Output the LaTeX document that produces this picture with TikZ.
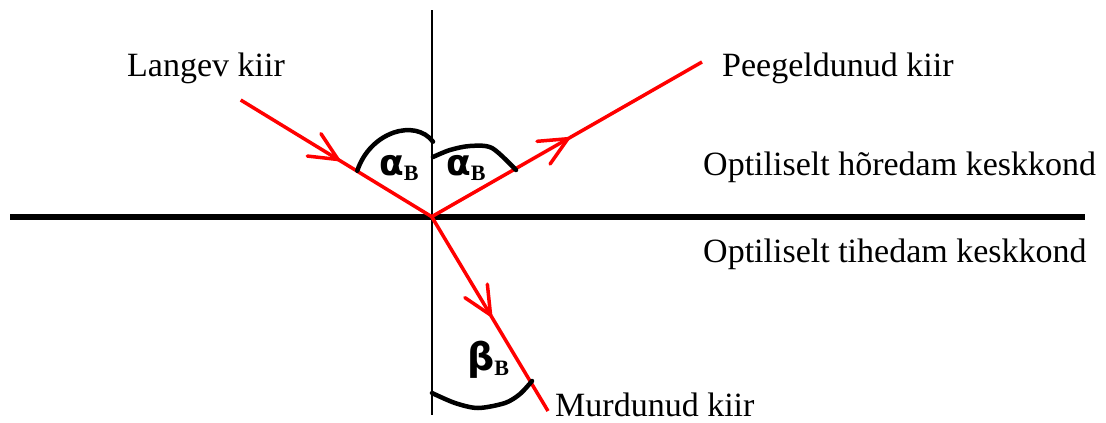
\documentclass[tikz,border=0pt]{standalone}
\usepackage{fontspec}
\setmainfont{Liberation Serif}
\newfontfamily\greekfont{DejaVu Sans}
\usetikzlibrary{calc}
\begin{document}
\begin{tikzpicture}[x=1pt,y=-1pt,
  ray/.style={draw=red,line width=3.5pt},
  barb/.style={draw=red,line width=3.5pt,line join=round,line cap=round},
  normalline/.style={draw=black,line width=2pt},
  boundary/.style={draw=black,line width=6pt},
  anglearc/.style={draw=black,line width=4.5pt,line cap=round},
  lbl/.style={font=\fontsize{34}{40}\selectfont,anchor=base west,inner sep=0pt},
  anglelbl/.style={anchor=base west,inner sep=0pt}]
\useasboundingbox (0,0) rectangle (1106,423);
% geometry
\coordinate (O) at (431.7,216.7);
\coordinate (Ntop) at (431.7,10);
\coordinate (Nbot) at (431.7,415);
\coordinate (Bl) at (10,216.7);
\coordinate (Br) at (1085,216.7);
\coordinate (I) at (240.7,100);
\coordinate (R) at (702,62);
\coordinate (T) at (548,411);
% normal and boundary
\draw[normalline] (Ntop) -- (Nbot);
\draw[boundary] (Bl) -- (Br);
% rays
\draw[ray] (I) -- (O);
\draw[ray] (O) -- (R);
\draw[ray] (O) -- (T);
% arrow tips
\coordinate (tI) at ($(I)!0.51!(O)$);
\coordinate (tR) at ($(O)!0.504!(R)$);
\coordinate (tT) at ($(O)!0.506!(T)$);
\draw[barb] ($(tI)!31pt!25:(I)$) -- (tI) -- ($(tI)!31pt!-25:(I)$);
\draw[barb] ($(tR)!31pt!25:(O)$) -- (tR) -- ($(tR)!31pt!-25:(O)$);
\draw[barb] ($(tT)!31pt!25:(O)$) -- (tT) -- ($(tT)!31pt!-25:(O)$);
% angle arcs
\draw[anglearc] (357.3,170.7) .. controls (370,132) and (415,118) .. (433,141.7);
\draw[anglearc] plot[smooth] coordinates {(433,157) (450,150) (470,146) (492,148) (516,170)};
\draw[anglearc] plot[smooth] coordinates {(432,393) (455,403) (478,408) (505,403) (520,394) (532,381)};
% angle labels
\node[anglelbl] (a1) at (379,175) {{\fontsize{36}{36}\selectfont\greekfont\bfseries α}\raisebox{-5pt}{\fontsize{22}{22}\selectfont\bfseries B}};
\node[anglelbl] (a2) at (446,175) {{\fontsize{36}{36}\selectfont\greekfont\bfseries α}\raisebox{-5pt}{\fontsize{22}{22}\selectfont\bfseries B}};
\node[anglelbl] (b1) at (467,370) {{\fontsize{38}{38}\selectfont\greekfont\bfseries β}\raisebox{-5pt}{\fontsize{22}{22}\selectfont\bfseries B}};
% text labels
\node[lbl] (langev) at (127,76.7) {Langev kiir};
\node[lbl] (peeg) at (722,76.7) {Peegeldunud kiir};
\node[lbl] (hored) at (703,175) {Optiliselt hõredam keskkond};
\node[lbl] (tihed) at (703,262) {Optiliselt tihedam keskkond};
\node[lbl] (murd) at (555,416.5) {Murdunud kiir};
\end{tikzpicture}
\end{document}
